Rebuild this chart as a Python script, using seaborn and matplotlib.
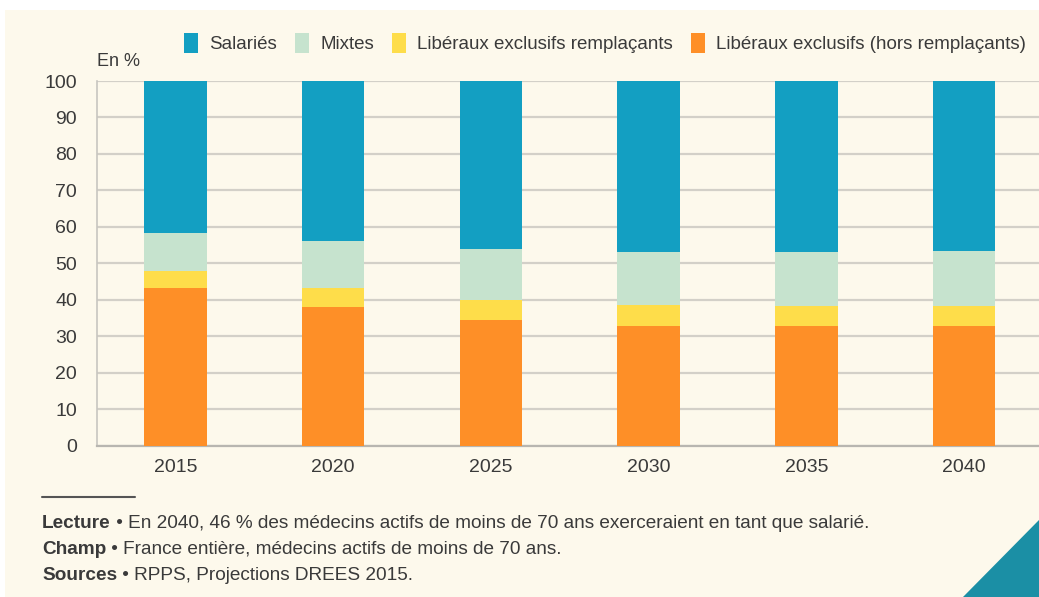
import matplotlib
matplotlib.use("Agg")
import matplotlib.pyplot as plt
from matplotlib.patches import Patch, Polygon, Rectangle
from matplotlib.lines import Line2D
import seaborn as sns
import pandas as pd
import numpy as np

years = ["2015", "2020", "2025", "2030", "2035", "2040"]
liberaux_hors = [43.3, 38.0, 34.5, 32.9, 32.9, 32.9]
liberaux_rempl = [4.5, 5.3, 5.5, 5.6, 5.3, 5.3]
mixtes = [10.5, 12.7, 13.8, 14.6, 14.9, 15.2]
salaries = [41.7, 44.0, 46.2, 46.9, 46.9, 46.6]

series_names = ["Salariés", "Mixtes", "Libéraux exclusifs remplaçants",
                "Libéraux exclusifs (hors remplaçants)"]
colors = {"Salariés": "#139fc2", "Mixtes": "#c6e3ce",
          "Libéraux exclusifs remplaçants": "#fedd4a",
          "Libéraux exclusifs (hors remplaçants)": "#fe8f27"}

sns.set_theme(style="white")
FONT = ["Liberation Sans Narrow", "Liberation Sans", "DejaVu Sans"]
plt.rcParams["font.family"] = FONT
TXT = "#3a3a3a"
BG = "#fdf9ec"

order_bottom_up = ["Libéraux exclusifs (hors remplaçants)", "Libéraux exclusifs remplaçants",
                   "Mixtes", "Salariés"]
vals = {"Libéraux exclusifs (hors remplaçants)": liberaux_hors,
        "Libéraux exclusifs remplaçants": liberaux_rempl,
        "Mixtes": mixtes, "Salariés": salaries}
cum = np.zeros(len(years))
layers = []
for name in order_bottom_up:
    cum = cum + np.array(vals[name])
    layers.append((name, cum.copy()))

fig = plt.figure(figsize=(10.39, 5.97), dpi=100)
fig.patch.set_facecolor("white")
fig.add_artist(Rectangle((5 / 1039, 0), 1, 1 - 10 / 597, transform=fig.transFigure,
                         facecolor=BG, edgecolor="none", zorder=-10))
fig.add_artist(Polygon([(963 / 1039, 0), (1.0, 0), (1.0, 1 - 520 / 597)], closed=True,
                       transform=fig.transFigure, facecolor="#1b8fa5", edgecolor="none", zorder=5))

ax = fig.add_axes([96.5 / 1039, 1 - 445.5 / 597, (1043 - 96.5) / 1039, (445.5 - 81) / 597])
ax.set_facecolor(BG)
ax.patch.set_alpha(0)

for name, top in reversed(layers):
    df = pd.DataFrame({"year": years, "value": top})
    sns.barplot(data=df, x="year", y="value", color=colors[name], saturation=1,
                width=0.395, ax=ax, zorder=3, edgecolor="none", linewidth=0)

ax.set_ylim(0, 100)
ax.set_xlim(-0.5, 5.5)
ax.set_yticks(range(0, 101, 10))
ax.set_yticklabels([str(v) for v in range(0, 101, 10)])
ax.yaxis.grid(True, color="#d3d0c8", linewidth=1.6, zorder=0)
ax.set_axisbelow(True)
ax.set_xlabel("")
ax.set_ylabel("")
for s in ["top", "right"]:
    ax.spines[s].set_visible(False)
ax.spines["left"].set_color("#c8c6c0")
ax.spines["left"].set_linewidth(1.2)
ax.spines["bottom"].set_color("#b8b6b0")
ax.spines["bottom"].set_linewidth(1.6)
ax.tick_params(axis="y", length=0, labelsize=14, labelcolor=TXT, pad=14)
ax.tick_params(axis="x", length=0, labelsize=14, labelcolor=TXT, pad=10)
ax.set_xticks(np.arange(0.5, 5.5, 1), minor=True)
ax.tick_params(axis="x", which="minor", length=7, width=1.2, color="#b8b6b0", direction="out")
ax.set_xticks(range(len(years)))
ax.set_xticklabels(years)

fig.text(97 / 1039, 1 - 62 / 597, "En %", fontsize=13, color=TXT, va="center", ha="left")

handles = [Patch(facecolor=colors[n], edgecolor="none") for n in series_names]
fig.legend(handles, series_names, loc="center right", bbox_to_anchor=(1.0, 1 - 43 / 597),
           ncol=4, frameon=False, fontsize=13.5, handlelength=0.75, handleheight=1.3,
           handletextpad=0.6, columnspacing=0.95, labelcolor=TXT, borderaxespad=0.3)

fig.add_artist(Line2D([42 / 1039, 135 / 1039], [1 - 497 / 597] * 2, transform=fig.transFigure,
                      color="#555555", linewidth=1.5))

foot = [("Lecture", " • En 2040, 46 % des médecins actifs de moins de 70 ans exerceraient en tant que salarié.", 523),
        ("Champ", " • France entière, médecins actifs de moins de 70 ans.", 549),
        ("Sources", " • RPPS, Projections DREES 2015.", 576)]
renderer = fig.canvas.get_renderer()
for bold, rest, y in foot:
    t = fig.text(42 / 1039, 1 - y / 597, bold, fontsize=13.7, fontweight="bold", color=TXT,
                 va="center", ha="left")
    bb = t.get_window_extent(renderer=renderer)
    fig.text(bb.x1 / fig.bbox.width, 1 - y / 597, rest, fontsize=13.7, color=TXT,
             va="center", ha="left")

fig.savefig("out.png", dpi=100, facecolor=fig.get_facecolor())
